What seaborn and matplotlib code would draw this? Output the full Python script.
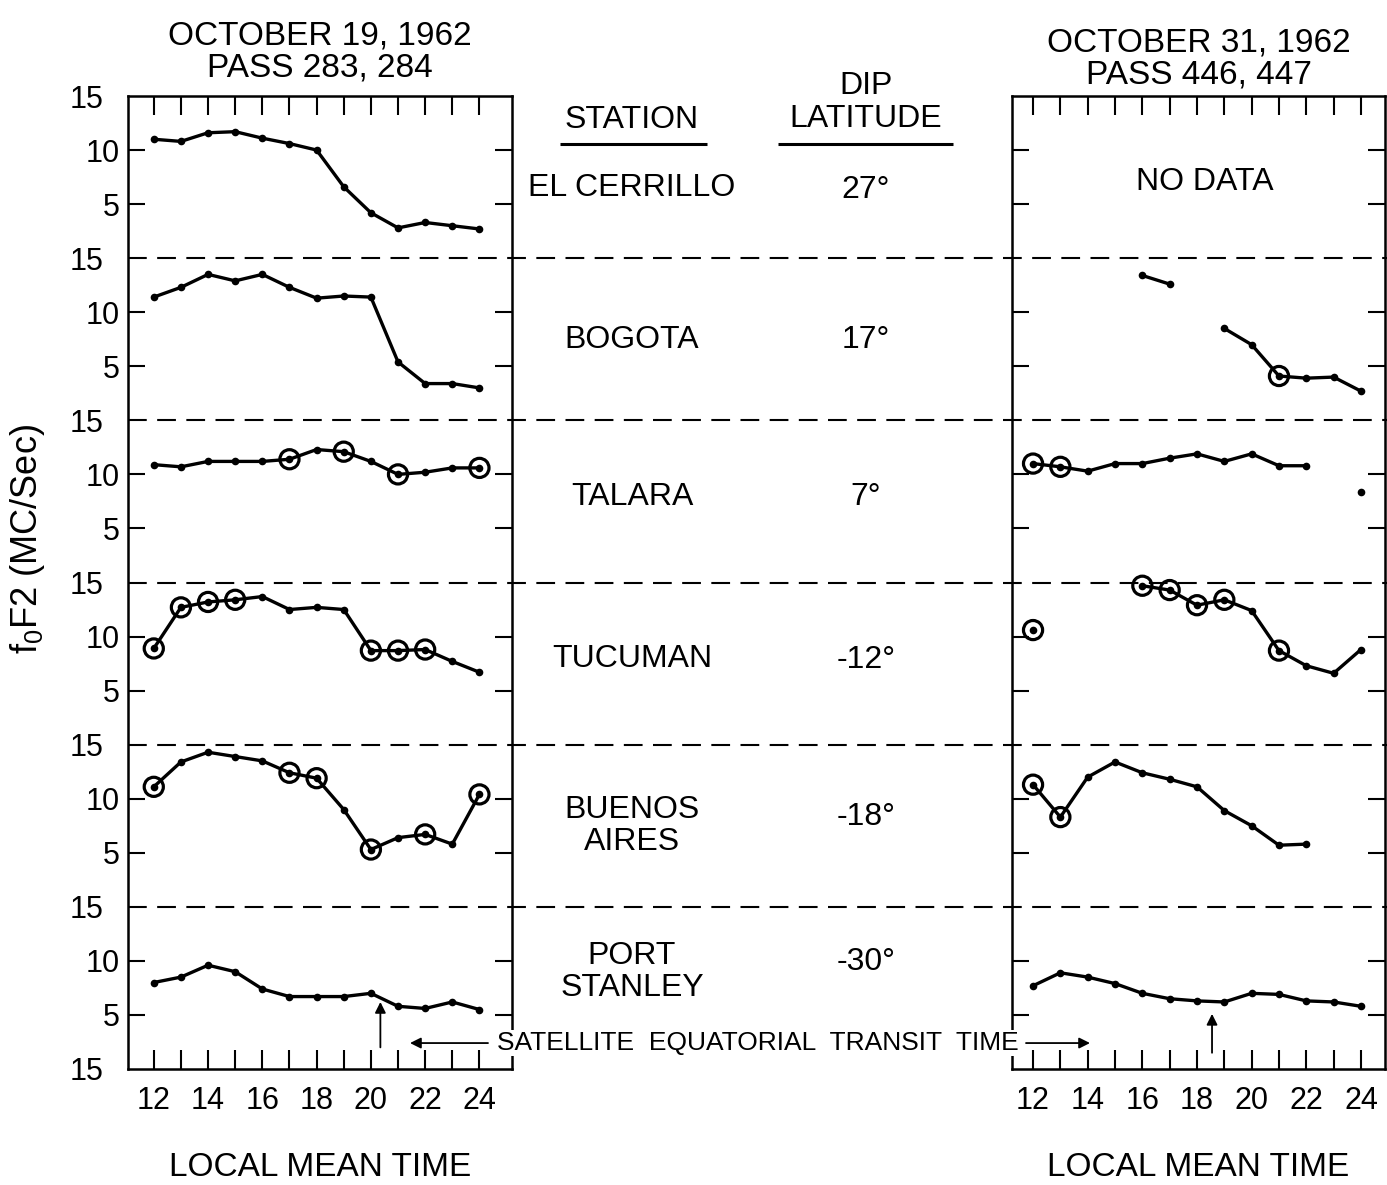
import numpy as np
import pandas as pd
import matplotlib
matplotlib.use("Agg")
import matplotlib.pyplot as plt
import seaborn as sns

# ---------------- data ----------------
HOURS = list(range(12, 25))
STATIONS = ["EL CERRILLO", "BOGOTA", "TALARA", "TUCUMAN", "BUENOS\nAIRES", "PORT\nSTANLEY"]
DIP_LATITUDES = ["27°", "17°", "7°", "-12°", "-18°", "-30°"]
BAND_OFFSETS = [75, 60, 45, 30, 15, 0]
nan = np.nan

# October 19, 1962 (pass 283, 284)
oct19_el_cerrillo = [11.0, 10.8, 11.6, 11.7, 11.1, 10.6, 10.0, 6.6, 4.2, 2.8, 3.3, 3.0, 2.7]
oct19_bogota = [11.4, 12.3, 13.5, 12.9, 13.5, 12.3, 11.3, 11.5, 11.4, 5.4, 3.4, 3.4, 3.0]
oct19_talara = [10.9, 10.7, 11.2, 11.2, 11.2, 11.4, 12.3, 12.1, 11.2, 10.0, 10.2, 10.6, 10.6]
oct19_tucuman = [8.9, 12.7, 13.2, 13.4, 13.7, 12.5, 12.7, 12.5, 8.7, 8.7, 8.8, 7.7, 6.7]
oct19_buenos_aires = [11.1, 13.4, 14.3, 13.9, 13.5, 12.4, 11.9, 9.0, 5.3, 6.4, 6.7, 5.8, 10.4]
oct19_port_stanley = [8.0, 8.5, 9.6, 9.0, 7.4, 6.7, 6.7, 6.7, 7.0, 5.8, 5.6, 6.2, 5.5]

oct19_el_cerrillo_circled = []
oct19_bogota_circled = []
oct19_talara_circled = [17, 19, 21, 24]
oct19_tucuman_circled = [12, 13, 14, 15, 20, 21, 22]
oct19_buenos_aires_circled = [12, 17, 18, 20, 22, 24]
oct19_port_stanley_circled = []

# October 31, 1962 (pass 446, 447)
oct31_el_cerrillo = [nan] * 13
oct31_bogota = [nan, nan, nan, nan, 13.4, 12.6, nan, 8.5, 7.0, 4.1, 3.9, 4.0, 2.7]
oct31_talara = [11.0, 10.7, 10.3, 11.0, 11.0, 11.5, 11.9, 11.2, 11.9, 10.8, 10.8, nan, 8.4]
oct31_tucuman = [10.6, nan, nan, nan, 14.7, 14.3, 12.9, 13.4, 12.4, 8.7, 7.3, 6.6, 8.8]
oct31_buenos_aires = [11.3, 8.3, 12.0, 13.4, 12.4, 11.8, 11.1, 8.9, 7.5, 5.7, 5.8, nan, nan]
oct31_port_stanley = [7.7, 8.9, 8.5, 7.9, 7.0, 6.5, 6.3, 6.2, 7.0, 6.9, 6.3, 6.2, 5.8]

oct31_el_cerrillo_circled = []
oct31_bogota_circled = [21]
oct31_talara_circled = [12, 13]
oct31_tucuman_circled = [12, 16, 17, 18, 19, 21]
oct31_buenos_aires_circled = [12, 13]
oct31_port_stanley_circled = []

OCT19 = [oct19_el_cerrillo, oct19_bogota, oct19_talara, oct19_tucuman, oct19_buenos_aires, oct19_port_stanley]
OCT19_CIRCLED = [oct19_el_cerrillo_circled, oct19_bogota_circled, oct19_talara_circled,
                 oct19_tucuman_circled, oct19_buenos_aires_circled, oct19_port_stanley_circled]
OCT31 = [oct31_el_cerrillo, oct31_bogota, oct31_talara, oct31_tucuman, oct31_buenos_aires, oct31_port_stanley]
OCT31_CIRCLED = [oct31_el_cerrillo_circled, oct31_bogota_circled, oct31_talara_circled,
                 oct31_tucuman_circled, oct31_buenos_aires_circled, oct31_port_stanley_circled]


def build(series_list, circled_list):
    rows = []
    for i, (vals, circ) in enumerate(zip(series_list, circled_list)):
        seg = 0
        gap = True
        for h, v in zip(HOURS, vals):
            if np.isnan(v):
                gap = True
                continue
            if gap:
                seg += 1
                gap = False
            rows.append(dict(hour=h, f0F2=v, y=v + BAND_OFFSETS[i],
                             seg=f"{i}-{seg}", circled=h in circ))
    return pd.DataFrame(rows)


df19 = build(OCT19, OCT19_CIRCLED)
df31 = build(OCT31, OCT31_CIRCLED)

# ---------------- style ----------------
sns.set_theme(style="ticks")
plt.rcParams["font.family"] = ["Liberation Sans", "DejaVu Sans"]
plt.rcParams["mathtext.fontset"] = "custom"
plt.rcParams["mathtext.rm"] = "Liberation Sans"
for k in ["text.color", "axes.labelcolor", "xtick.color", "ytick.color", "axes.edgecolor"]:
    plt.rcParams[k] = "black"

W, H = 1387, 1185
fig = plt.figure(figsize=(W / 100, H / 100), dpi=100)
fig.patch.set_facecolor("white")

top_px, bot_px = 96, 1069
b = 1 - bot_px / H
h = (bot_px - top_px) / H

ax_bg = fig.add_axes([0, b, 1, h], zorder=0)
ax_bg.set_xlim(0, 1)
ax_bg.set_ylim(0, 90)
ax_bg.axis("off")

axL = fig.add_axes([128 / W, b, 384 / W, h], facecolor="none", zorder=1)
axR = fig.add_axes([1012 / W, b, 373 / W, h], facecolor="none", zorder=1)

DASH = (0, (9, 5))
ax_bg.hlines(BAND_OFFSETS[:-1], 128 / W, 1.0, colors="black", linestyles=DASH, lw=1.5)

for ax, df, xlim in [(axL, df19, (11.05, 25.2)), (axR, df31, (11.23, 24.88))]:
    sns.lineplot(data=df, x="hour", y="y", units="seg", estimator=None, sort=False,
                 color="black", lw=2.4, marker="o", markersize=5.5, markeredgewidth=0, ax=ax)
    circ = df[df["circled"]]
    sns.scatterplot(data=circ, x="hour", y="y", marker="o", s=190, facecolor="none",
                    edgecolor="black", linewidth=2.3, ax=ax, zorder=4)
    ax.set_xlim(*xlim)
    ax.set_ylim(0, 90)
    ax.set_xticks(HOURS, [str(x) if x % 2 == 0 else "" for x in HOURS])
    major = sorted([o + d for o in BAND_OFFSETS for d in (5, 10)])
    ax.set_yticks(major, ["5" if (m % 15) == 5 else "10" for m in major])
    ax.set_yticks(list(range(0, 91, 15)), ["15"] * 7, minor=True)
    ax.tick_params(axis="x", which="major", direction="in", length=14, width=1.5,
                   top=True, bottom=True, labelsize=22, pad=12)
    ax.tick_params(axis="y", which="major", direction="in", length=12, width=1.5,
                   left=True, right=True, labelsize=22, pad=6)
    ax.tick_params(axis="y", which="minor", length=0, labelsize=22, pad=18)
    for s in ax.spines.values():
        s.set_linewidth(1.8)
        s.set_color("black")
    ax.set_xlabel("LOCAL MEAN TIME", fontsize=24, labelpad=26)
    ax.set_ylabel("")

axR.tick_params(axis="y", which="both", labelleft=False)

axL.set_ylabel(r"f$_\mathregular{0}$F2 (MC/Sec)", fontsize=26)
axL.yaxis.set_label_coords(-0.21, 0.545)

axL.set_title("OCTOBER 19, 1962\nPASS 283, 284", fontsize=24, pad=14, linespacing=1.05)
axR.set_title("OCTOBER 31, 1962\nPASS 446, 447", fontsize=24, pad=9, linespacing=1.05)

axR.text(18.3, 82.0, "NO DATA", ha="center", va="center", fontsize=23)

# middle column
STATION_X, DIP_X = 632 / W, 866 / W
STATION_Y = [81.5, 67.4, 52.9, 37.9, 22.5, 9.0]
DIP_Y = [81.3, 67.4, 52.9, 37.8, 23.3, 9.9]
ax_bg.text(STATION_X, 87.8, "STATION", ha="center", va="center", fontsize=23)
ax_bg.text(DIP_X, 89.4, "DIP\nLATITUDE", ha="center", va="center", fontsize=23, linespacing=1.15)
ax_bg.hlines(85.6, 560 / W, 707 / W, colors="black", lw=2.2)
ax_bg.hlines(85.6, 778 / W, 953 / W, colors="black", lw=2.2)
for name, lat, sy, dy in zip(STATIONS, DIP_LATITUDES, STATION_Y, DIP_Y):
    ax_bg.text(STATION_X, sy, name, ha="center", va="center", fontsize=23, linespacing=1.1)
    ax_bg.text(DIP_X, dy, lat, ha="center", va="center", fontsize=23)

# transit time annotations
arrow = dict(arrowstyle="-|>", color="black", lw=1.3, mutation_scale=16, shrinkA=0, shrinkB=0)
axL.annotate("", xy=(20.35, 6.2), xytext=(20.35, 2.0), arrowprops=arrow)
axR.annotate("", xy=(18.55, 5.1), xytext=(18.55, 1.5), arrowprops=arrow)
ax_bg.annotate("", xy=(410 / W, 2.4), xytext=(488 / W, 2.4), arrowprops=arrow)
ax_bg.annotate("", xy=(1090 / W, 2.4), xytext=(1026 / W, 2.4), arrowprops=arrow)
fig.text(758 / W, 1 - 1043 / H, "SATELLITE  EQUATORIAL  TRANSIT  TIME", ha="center", va="center",
         fontsize=19, bbox=dict(facecolor="white", edgecolor="none", pad=1))

fig.savefig("out.png", dpi=100, facecolor="white")
